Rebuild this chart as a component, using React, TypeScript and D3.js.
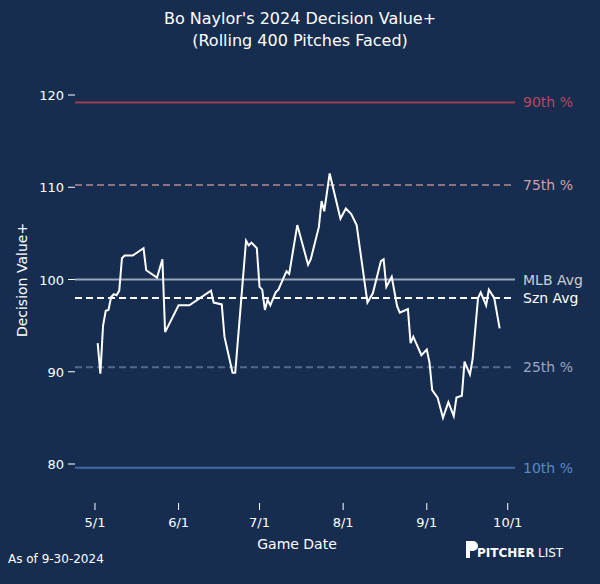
import * as d3 from 'd3';
import React from 'react';

// days since May 1, 2024
const days = [1, 2, 3, 4, 5, 6, 7, 8, 9, 10, 11, 14, 18, 19, 23, 25, 26, 31, 35, 43, 44, 47, 48, 51, 52, 56, 57, 58, 60, 61, 62, 63, 64, 65, 67, 68, 71, 72, 75, 79, 80, 83, 84, 85, 87, 91, 93, 95, 97, 101, 103, 106, 107, 108, 110, 112, 113, 116, 117, 118, 121, 123, 124, 125, 127, 129, 131, 133, 134, 136, 137, 139, 140, 142, 143, 145, 146, 148, 150];
const values = [93.1, 89.8, 95.0, 96.6, 96.7, 98.1, 98.4, 98.3, 98.8, 102.3, 102.6, 102.6, 103.4, 101.0, 100.2, 102.2, 94.3, 97.2, 97.2, 98.8, 97.5, 97.3, 93.8, 89.9, 89.9, 104.2, 103.7, 104.0, 103.4, 99.2, 98.9, 96.7, 97.8, 97.2, 98.6, 98.9, 100.9, 100.6, 105.9, 101.6, 102.2, 105.7, 108.5, 107.4, 111.5, 106.6, 107.7, 107.1, 105.9, 97.5, 98.5, 102.0, 102.2, 99.2, 100.3, 97.1, 96.4, 96.8, 93.1, 93.8, 91.8, 92.4, 91.0, 88.0, 87.2, 85.0, 86.7, 85.2, 87.2, 87.4, 91.1, 89.7, 91.4, 98.0, 98.6, 97.2, 98.9, 98.0, 94.7];

const refNames = ['90th %', '75th %', 'MLB Avg', 'Szn Avg', '25th %', '10th %'];
const refValues = [119.2, 110.25, 100, 98.0, 90.5, 79.6];
const refLine = ['#9c3d52', '#8a7482', '#9ba7b9', '#ffffff', '#55698f', '#3f6aa6'];
const refText = ['#b8485c', '#d0a0a6', '#c8ced8', '#ffffff', '#9aa6c2', '#5a88c4'];
const refDash = [false, true, false, true, true, false];

const yTicks = [80, 90, 100, 110, 120];
const xTickLabels = ['5/1', '6/1', '7/1', '8/1', '9/1', '10/1'];
const xTickDays = [0, 31, 61, 92, 123, 153];

const W = 600;
const H = 584;
const bg = '#172d50';

const App = () => {
  const x = d3.scaleLinear().domain([-7.4, 155.7]).range([75, 515]);
  const y = d3.scaleLinear().domain([80, 120]).range([464, 95]);
  const line = d3
    .line<number>()
    .x((_, i) => x(days[i]))
    .y((v) => y(v));
  const font = 'DejaVu Sans, sans-serif';

  return (
    <svg width={W} height={H} style={{ position: 'absolute', left: 0, top: 0 }} fontFamily={font}>
      <rect width={W} height={H} fill={bg} />
      <text x={300} y={24} fill="#fff" fontSize={16} textAnchor="middle">Bo Naylor's 2024 Decision Value+</text>
      <text x={300} y={46} fill="#fff" fontSize={16} textAnchor="middle">(Rolling 400 Pitches Faced)</text>
      {yTicks.map((t) => (
        <g key={t}>
          <line x1={68} x2={75} y1={y(t)} y2={y(t)} stroke="#fff" />
          <text x={64} y={y(t) + 5} fill="#fff" fontSize={13} textAnchor="end">{t}</text>
        </g>
      ))}
      <text transform="translate(27,280) rotate(-90)" fill="#fff" fontSize={14} textAnchor="middle">Decision Value+</text>
      {refValues.map((v, i) => (
        <g key={refNames[i]}>
          <line x1={75} x2={515} y1={y(v)} y2={y(v)} stroke={refLine[i]} strokeWidth={2} strokeDasharray={refDash[i] ? '7,4' : undefined} />
          <text x={523} y={y(v) + 5} fill={refText[i]} fontSize={14}>{refNames[i]}</text>
        </g>
      ))}
      <path d={line(values) || ''} fill="none" stroke="#fff" strokeWidth={2} />
      {xTickDays.map((d, i) => (
        <g key={d}>
          <line x1={x(d)} x2={x(d)} y1={503} y2={510} stroke="#fff" />
          <text x={x(d)} y={527} fill="#fff" fontSize={13} textAnchor="middle">{xTickLabels[i]}</text>
        </g>
      ))}
      <text x={297} y={549} fill="#fff" fontSize={14} textAnchor="middle">Game Date</text>
      <text x={8} y={563} fill="#fff" fontSize={12}>As of 9-30-2024</text>
      <path d="M466 541 h7 a5 5 0 0 1 0 10 h-3 v7 h-4 z" fill="#fff" />
      <text x={477} y={557} fill="#fff" fontSize={12} fontWeight="bold">PITCHER</text>
      <text x={538} y={557} fill="#fff" fontSize={12}>LIST</text>
    </svg>
  );
};

export default App;
